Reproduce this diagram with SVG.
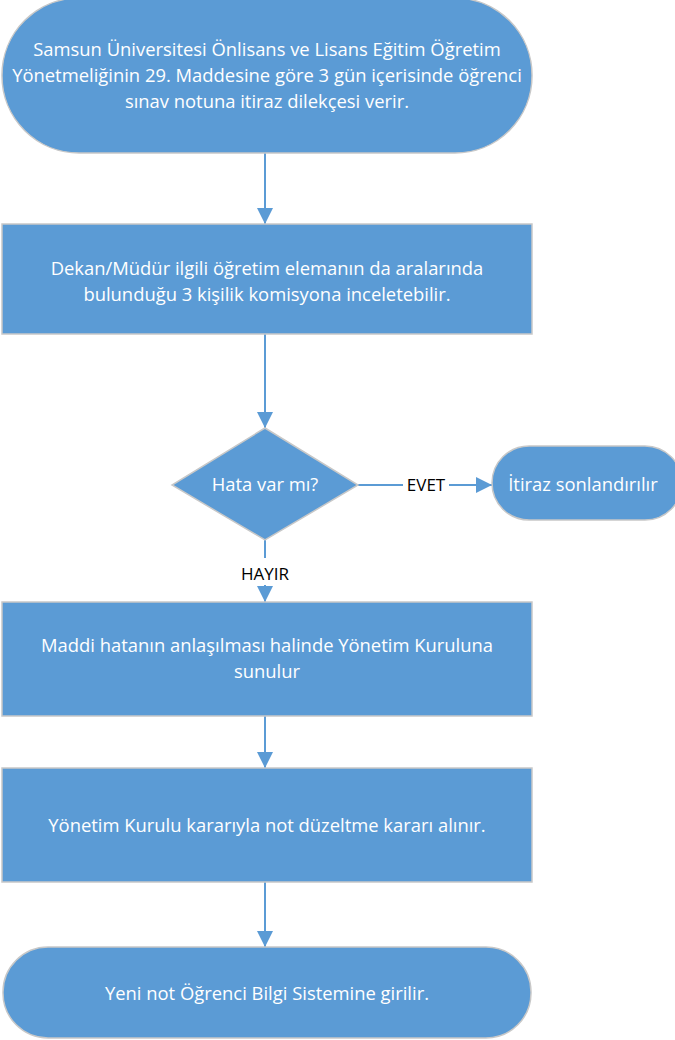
<svg xmlns="http://www.w3.org/2000/svg" width="675" height="1040" viewBox="0 0 675 1040">
<defs>
<style>
.n{fill:#5B9BD5;stroke:#C8C8C8;stroke-width:1.5}
.t{font-family:"Open Sans","Liberation Sans",sans-serif;font-size:18.4px;fill:#fff;text-anchor:middle}
.l{font-family:"Open Sans","Liberation Sans",sans-serif;font-size:17px;fill:#000;text-anchor:middle}
.c{stroke:#5B9BD5;stroke-width:2;fill:none}
</style>
<marker id="b" viewBox="0 0 16 16" refX="16" refY="8" markerWidth="16" markerHeight="16" markerUnits="userSpaceOnUse" orient="auto">
<path d="M0,0 L16,8 L0,16 z" fill="#5B9BD5"/>
</marker>
</defs>
<g id="connectors">
<path class="c" d="M265,153 V224" marker-end="url(#b)"/>
<path class="c" d="M265,334 V428" marker-end="url(#b)"/>
<path class="c" d="M358,485 H403"/>
<path class="c" d="M449,485 H492" marker-end="url(#b)"/>
<path class="c" d="M265,540 V558"/>
<path class="c" d="M265,585 V602" marker-end="url(#b)"/>
<path class="c" d="M265,716 V768" marker-end="url(#b)"/>
<path class="c" d="M265,882 V947" marker-end="url(#b)"/>
<text class="l" x="426" y="491">EVET</text>
<text class="l" x="265" y="580">HAYIR</text>
</g>
<g id="n1">
<rect class="n" x="2" y="-2" width="530" height="155" rx="77"/>
<text class="t" x="267" y="56">Samsun Üniversitesi Önlisans ve Lisans Eğitim Öğretim</text>
<text class="t" x="267" y="82">Yönetmeliğinin 29. Maddesine göre 3 gün içerisinde öğrenci</text>
<text class="t" x="267" y="108">sınav notuna itiraz dilekçesi verir.</text>
</g>
<g id="n2">
<rect class="n" x="2" y="224" width="530" height="110"/>
<text class="t" x="267" y="275">Dekan/Müdür ilgili öğretim elemanın da aralarında</text>
<text class="t" x="267" y="301">bulunduğu 3 kişilik komisyona inceletebilir.</text>
</g>
<g id="n3">
<polygon class="n" points="265,428 358,485 265,540 172,485"/>
<text class="t" x="265" y="491">Hata var mı?</text>
</g>
<g id="n4">
<rect class="n" x="492" y="446" width="190" height="74" rx="37"/>
<text class="t" x="583" y="491">İtiraz sonlandırılır</text>
</g>
<g id="n5">
<rect class="n" x="2" y="602" width="530" height="114"/>
<text class="t" x="267" y="652">Maddi hatanın anlaşılması halinde Yönetim Kuruluna</text>
<text class="t" x="267" y="678">sunulur</text>
</g>
<g id="n6">
<rect class="n" x="2" y="768" width="530" height="114"/>
<text class="t" x="267" y="832">Yönetim Kurulu kararıyla not düzeltme kararı alınır.</text>
</g>
<g id="n7">
<rect class="n" x="3" y="947" width="528" height="91" rx="45"/>
<text class="t" x="267" y="1000">Yeni not Öğrenci Bilgi Sistemine girilir.</text>
</g>
</svg>
